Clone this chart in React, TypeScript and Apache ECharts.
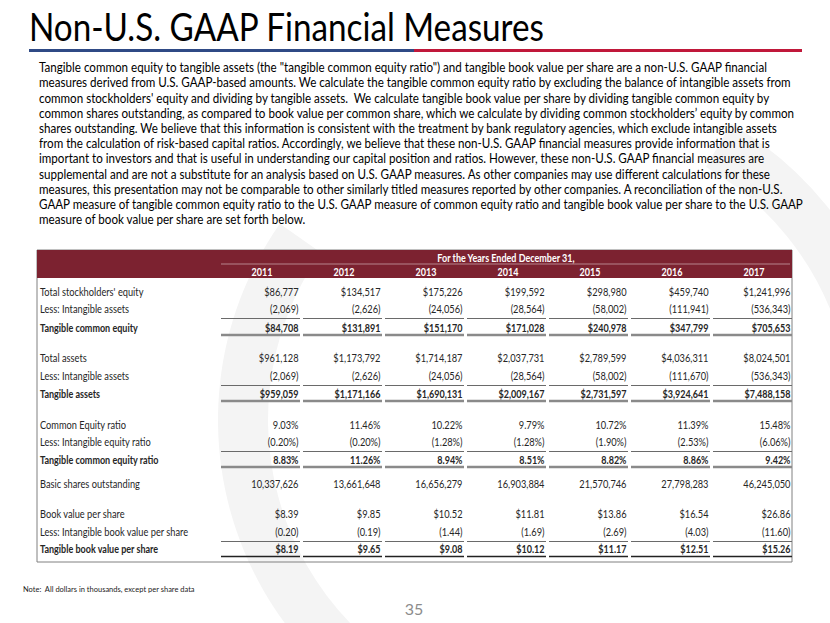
import React, { useEffect, useRef } from "react";
import * as echarts from "echarts";

const titleText = "Non-U.S. GAAP Financial Measures";

const paragraphLines = [
  'Tangible common equity to tangible assets (the "tangible common equity ratio") and tangible book value per share are a non-U.S. GAAP financial',
  "measures derived from U.S. GAAP-based amounts. We calculate the tangible common equity ratio by excluding the balance of intangible assets from",
  "common stockholders' equity and dividing by tangible assets.  We calculate tangible book value per share by dividing tangible common equity by",
  "common shares outstanding, as compared to book value per common share, which we calculate by dividing common stockholders\u2019 equity by common",
  "shares outstanding. We believe that this information is consistent with the treatment by bank regulatory agencies, which exclude intangible assets",
  "from the calculation of risk-based capital ratios. Accordingly, we believe that these non-U.S. GAAP financial measures provide information that is",
  "important to investors and that is useful in understanding our capital position and ratios. However, these non-U.S. GAAP financial measures are",
  "supplemental and are not a substitute for an analysis based on U.S. GAAP measures. As other companies may use different calculations for these",
  "measures, this presentation may not be comparable to other similarly titled measures reported by other companies. A reconciliation of the non-U.S.",
  "GAAP measure of tangible common equity ratio to the U.S. GAAP measure of common equity ratio and tangible book value per share to the U.S. GAAP",
  "measure of book value per share are set forth below.",
];

const headerText = "For the Years Ended December 31,";
const years = ["2011", "2012", "2013", "2014", "2015", "2016", "2017"];

const totalEquity = [86777, 134517, 175226, 199592, 298980, 459740, 1241996];
const intangibleAssetsEquity = [2069, 2626, 24056, 28564, 58002, 111941, 536343];
const tangibleCommonEquity = [84708, 131891, 151170, 171028, 240978, 347799, 705653];
const totalAssets = [961128, 1173792, 1714187, 2037731, 2789599, 4036311, 8024501];
const intangibleAssetsAssets = [2069, 2626, 24056, 28564, 58002, 111670, 536343];
const tangibleAssets = [959059, 1171166, 1690131, 2009167, 2731597, 3924641, 7488158];
const commonEquityRatio = [9.03, 11.46, 10.22, 9.79, 10.72, 11.39, 15.48];
const intangibleEquityRatio = [0.2, 0.2, 1.28, 1.28, 1.9, 2.53, 6.06];
const tangibleCommonEquityRatio = [8.83, 11.26, 8.94, 8.51, 8.82, 8.86, 9.42];
const basicShares = [10337626, 13661648, 16656279, 16903884, 21570746, 27798283, 46245050];
const bookValuePerShare = [8.39, 9.85, 10.52, 11.81, 13.86, 16.54, 26.86];
const intangibleBookValuePerShare = [0.2, 0.19, 1.44, 1.69, 2.69, 4.03, 11.6];
const tangibleBookValuePerShare = [8.19, 9.65, 9.08, 10.12, 11.17, 12.51, 15.26];

const noteText = "Note:  All dollars in thousands, except per share data";
const pageNumber = "35";

const n0 = (v: number) => v.toLocaleString("en-US");
const fmt: Record<string, (v: number) => string> = {
  dollar: (v) => "$" + n0(v),
  paren: (v) => "(" + n0(v) + ")",
  pct: (v) => v.toFixed(2) + "%",
  pctParen: (v) => "(" + v.toFixed(2) + "%)",
  plain: (v) => n0(v),
  ps: (v) => "$" + v.toFixed(2),
  psParen: (v) => "(" + v.toFixed(2) + ")",
};

type Row = { label: string; values: number[]; kind: string; bold: boolean; line: "none" | "thin" | "double" | "dark" };
const rows: Row[] = [
  { label: "Total stockholders' equity", values: totalEquity, kind: "dollar", bold: false, line: "none" },
  { label: "Less: Intangible assets", values: intangibleAssetsEquity, kind: "paren", bold: false, line: "thin" },
  { label: "Tangible common equity", values: tangibleCommonEquity, kind: "dollar", bold: true, line: "double" },
  { label: "Total assets", values: totalAssets, kind: "dollar", bold: false, line: "none" },
  { label: "Less: Intangible assets", values: intangibleAssetsAssets, kind: "paren", bold: false, line: "thin" },
  { label: "Tangible assets", values: tangibleAssets, kind: "dollar", bold: true, line: "double" },
  { label: "Common Equity ratio", values: commonEquityRatio, kind: "pct", bold: false, line: "none" },
  { label: "Less: Intangible equity ratio", values: intangibleEquityRatio, kind: "pctParen", bold: false, line: "thin" },
  { label: "Tangible common equity ratio", values: tangibleCommonEquityRatio, kind: "pct", bold: true, line: "double" },
  { label: "Basic shares outstanding", values: basicShares, kind: "plain", bold: false, line: "none" },
  { label: "Book value per share", values: bookValuePerShare, kind: "ps", bold: false, line: "none" },
  { label: "Less: Intangible book value per share", values: intangibleBookValuePerShare, kind: "psParen", bold: false, line: "thin" },
  { label: "Tangible book value per share", values: tangibleBookValuePerShare, kind: "ps", bold: true, line: "dark" },
];

// layout (not data)
const rowY = [292, 309, 328, 358, 376, 394, 425, 442, 460, 484, 514, 532, 549];
const FAM = "Lato, 'Open Sans', sans-serif";

export default function App() {
  const ref = useRef<HTMLDivElement>(null);
  useEffect(() => {
    let chart: echarts.ECharts | null = null;
    let cancelled = false;
    const build = () => {
      if (cancelled || !ref.current) return;
      const cv = document.createElement("canvas");
      const ctx = cv.getContext("2d")!;
      const measure = (t: string, font: string) => {
        ctx.font = font;
        return ctx.measureText(t).width;
      };
      const median = (a: number[]) => {
        const s = [...a].sort((x, y) => x - y);
        return s[Math.floor(s.length / 2)];
      };
      const els: any[] = [];
      const text = (x: number, y: number, t: string, o: any = {}) => {
        const size = o.size ?? 10;
        const weight = o.bold ? "bold " : "";
        els.push({
          type: "text",
          x,
          y,
          scaleX: o.scaleX ?? 1,
          z: o.z ?? 10,
          style: {
            text: t,
            x: 0,
            y: 0,
            fill: o.color ?? "#000",
            font: `${weight}${size}px ${FAM}`,
            align: o.align ?? "left",
            textAlign: o.align ?? "left",
            verticalAlign: "middle",
            textVerticalAlign: "middle",
          },
        });
      };
      const line = (x1: number, y1: number, x2: number, y2: number, color: string, w: number, z = 5) => {
        els.push({ type: "line", z, shape: { x1, y1, x2, y2 }, style: { stroke: color, lineWidth: w } });
      };
      const rect = (x: number, y: number, w: number, h: number, fill: string, stroke?: string, z = 2) => {
        els.push({
          type: "rect",
          z,
          shape: { x, y, width: w, height: h },
          style: { fill, stroke: stroke ?? null, lineWidth: 1 },
        });
      };

      // faint watermark
      const wm = (a0: number, a1: number, r0: number, r: number) =>
        els.push({
          type: "sector",
          z: 0,
          shape: { cx: 560, cy: 420, r, r0, startAngle: (a0 * Math.PI) / 180, endAngle: (a1 * Math.PI) / 180, clockwise: true },
          style: { fill: "#f4f4f4" },
        });
      wm(100, 215, 292, 342);
      wm(300, 342, 292, 342);

      // title
      const titleFont = `38px ${FAM}`;
      const titleScale = (545 - 29) / measure(titleText, titleFont);
      text(29, 27, titleText, { size: 38, scaleX: titleScale, color: "#000" });
      line(29, 50.5, 414, 50.5, "#2f4a85", 3);
      line(414, 50.5, 802, 50.5, "#c0183a", 3);

      // paragraph
      const pSize = 13.2;
      const pFont = `${pSize}px ${FAM}`;
      const pEnds = [772, 792, 771, 799, 779, 770, 764, 772, 788, 802, 300];
      const pScale = median(paragraphLines.map((l, i) => (pEnds[i] - 39) / measure(l, pFont)));
      paragraphLines.forEach((l, i) => {
        text(39, 67.5 + i * 15.2, l, { size: pSize, scaleX: pScale, color: "#000" });
      });

      // table frame + header
      const TL = 37, TR = 792, TT = 250, TB = 562;
      rect(TL, TT, TR - TL, TB - TT, "rgba(0,0,0,0)", "#808080", 1);
      rect(TL, TT, TR - TL, 28, "#7c2230", undefined, 3);
      const colL = years.map((_, i) => 221 + 82 * i);
      line(221, 264, 790, 264, "rgba(255,255,255,0.45)", 1, 6);

      const tSize = 11;
      const regFont = `${tSize}px ${FAM}`;
      const boldFont = `bold ${tSize}px ${FAM}`;
      const regScale = median([
        44 / measure("$1,241,996", regFont),
        151 / measure("Less: Intangible book value per share", regFont),
        100 / measure("Basic shares outstanding", regFont),
        42 / measure("10,337,626", regFont),
      ]);
      const boldScale = median([
        123 / measure("Tangible common equity ratio", boldFont),
        46 / measure("$1,171,166", boldFont),
        75 / measure("Tangible common equity", boldFont),
      ]);

      text(506, 258, headerText, { size: tSize, bold: true, color: "#fff", align: "center", scaleX: boldScale });
      years.forEach((y, i) => {
        text(colL[i] + 41, 272, y, { size: tSize, bold: true, color: "#fff", align: "center", scaleX: boldScale });
      });

      rows.forEach((r, ri) => {
        const yy = rowY[ri];
        const col = "#262626";
        text(40, yy, r.label, { size: tSize, bold: r.bold, color: col, scaleX: r.bold ? boldScale : regScale });
        r.values.forEach((v, ci) => {
          text(colL[ci] + 77.5, yy, fmt[r.kind](v), {
            size: tSize,
            bold: r.bold,
            color: col,
            align: "right",
            scaleX: r.bold ? boldScale : regScale,
          });
        });
        colL.forEach((cl) => {
          if (r.line === "thin") {
            line(cl, yy + 9.5, cl + 79, yy + 9.5, "#6a6a6a", 1);
          } else if (r.line === "double") {
            line(cl, yy + 7, cl + 79, yy + 7, "#8a8a8a", 2.5);
          } else if (r.line === "dark") {
            line(cl, yy + 7.5, cl + 79, yy + 7.5, "#222", 1.3);
          }
        });
      });

      const nSize = 8;
      const noteScale = (195 - 23) / measure(noteText, `${nSize}px ${FAM}`);
      text(23, 589, noteText, { size: nSize, color: "#222", scaleX: noteScale });
      text(414, 608, pageNumber, { size: 16, color: "#8c8c8c", align: "center" });

      chart = echarts.init(ref.current, null, { renderer: "svg", width: 830, height: 623 });
      chart.setOption({ animation: false, graphic: { elements: els } });
    };
    const fontsReady = (document as any).fonts
      ? Promise.all([
          (document as any).fonts.load(`38px Lato`),
          (document as any).fonts.load(`bold 10px Lato`),
        ]).catch(() => null)
      : Promise.resolve(null);
    fontsReady.then(build);
    return () => {
      cancelled = true;
      if (chart) chart.dispose();
    };
  }, []);
  return (
    <div
      ref={ref}
      style={{ position: "fixed", left: 0, top: 0, width: 830, height: 623, background: "#fff" }}
    />
  );
}
